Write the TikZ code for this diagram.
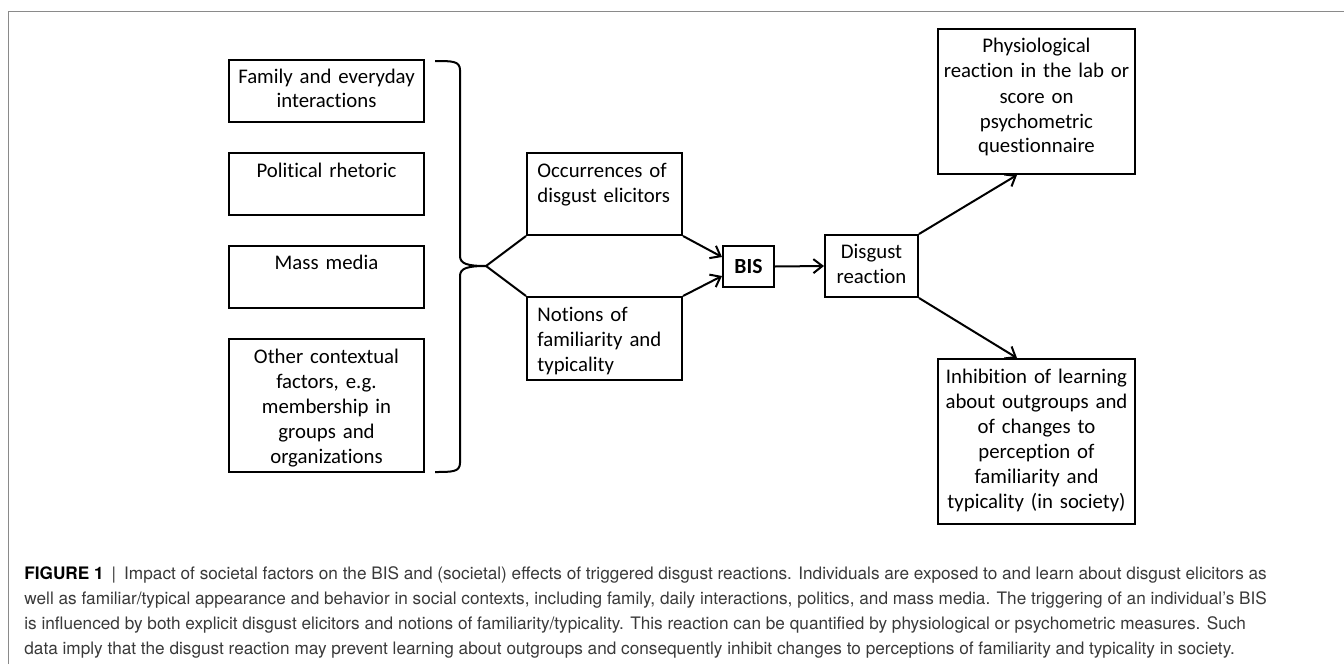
\documentclass[tikz,border=0pt]{standalone}
\usepackage{fontspec}
\setmainfont{Carlito}[RawFeature=-liga]
\newfontfamily\capfont{TeX Gyre Heros}
\usetikzlibrary{arrows.meta,calc}
\definecolor{capgray}{HTML}{3A3A3A}
\definecolor{framegray}{HTML}{8A8A8A}
\begin{document}
\begin{tikzpicture}[x=0.5pt,y=-0.5pt,
  box/.style={draw=black,line width=1pt,inner sep=0pt},
  txt/.style={font=\fontsize{10.4}{12.5}\selectfont,inner sep=0pt,anchor=base,align=center},
  ltxt/.style={font=\fontsize{10.4}{12.5}\selectfont,inner sep=0pt,anchor=base west,align=left},
  arr/.style={line width=1pt,-{Straight Barb[length=4.5pt,width=7pt]}},
  lnk/.style={line width=1pt},
  captxt/.style={font=\capfont\fontsize{8.6}{12.5}\selectfont,text=capgray,inner sep=0pt,anchor=base west}]
\useasboundingbox (0,0) rectangle (1344,664);
\fill[white] (0,0) rectangle (1344,664);
% frame
\draw[framegray,line width=0.8pt] (8.5,664) -- (8.5,11.5) -- (1344,11.5);
% left boxes
\node[box,minimum width=97.5pt,minimum height=31pt] (fam) at (326.5,91) {};
\node[box,minimum width=97.5pt,minimum height=31pt] (pol) at (326.5,184) {};
\node[box,minimum width=97.5pt,minimum height=31pt] (mas) at (326.5,277) {};
\node[box,minimum width=97.5pt,minimum height=66.5pt] (oth) at (326.5,405.5) {};
\node[txt,text width=95pt] (famt) at (326.5,83) {Family and everyday\\interactions};
\node[txt,text width=95pt] (polt) at (326.5,177) {Political rhetoric};
\node[txt,text width=95pt] (mast) at (326.5,269) {Mass media};
\node[txt,text width=95pt] (otht) at (326.5,363) {Other contextual\\factors, e.g.\\membership in\\groups and\\organizations};
% bracket
\coordinate (tip) at (486,266);
\draw[lnk] (435,61) .. controls (452,61) and (460,61) .. (460,70) -- (460,256)
  .. controls (460,264) and (468,266) .. (tip)
  .. controls (468,266) and (460,268) .. (460,276) -- (460,463)
  .. controls (460,472) and (452,472) .. (435,472);
% middle boxes
\node[box,minimum width=77.5pt,minimum height=41pt] (occ) at (604.5,194) {};
\node[box,minimum width=77.5pt,minimum height=41.5pt] (notn) at (604.5,338.5) {};
\node[ltxt,text width=75pt] (occt) at (537,177) {Occurrences of\\disgust elicitors};
\node[ltxt,text width=75pt] (notnt) at (537,321) {Notions of\\familiarity and\\typicality};
\draw[lnk] (occ.south west) -- (tip) -- (notn.north west);
% BIS and reaction
\node[box,minimum width=25.5pt,minimum height=20.5pt] (bis) at (748.5,266.5) {};
\node[txt,font=\fontsize{10.8}{12.5}\selectfont\bfseries] (bist) at (748.5,273.5) {BIS};
\node[box,minimum width=46.5pt,minimum height=31pt] (dis) at (871.5,266) {};
\node[txt,text width=45pt] (dist) at (871.5,258) {Disgust\\reaction};
% right boxes
\node[box,minimum width=98.5pt,minimum height=72.5pt] (phy) at (1036.5,101.5) {};
\node[txt,text width=96pt] (phyt) at (1036.5,53) {Physiological\\reaction in the lab or\\score on\\psychometric\\questionnaire};
\node[box,minimum width=98.5pt,minimum height=82.5pt] (inh) at (1036.5,441.5) {};
\node[txt,text width=96pt] (inht) at (1036.5,383) {Inhibition of learning\\about outgroups and\\of changes to\\perception of\\familiarity and\\typicality (in society)};
% arrows
\draw[arr] (occ.south east) -- ($(bis.west)+(0,-9.5)$);
\draw[arr] (notn.north east) -- ($(bis.west)+(0,9.5)$);
\draw[arr] (bis.east) -- (dis.west);
\draw[arr] (dis.north east) -- ($(phy.south west)+(80,0)$);
\draw[arr] (dis.south east) -- ($(inh.north west)+(80,0)$);
% caption
\node[captxt] (c1) at (24,579) {{\color{black}\bfseries FIGURE 1}\hspace{4pt}|\hspace{4pt}Impact of societal factors on the BIS and (societal) effects of triggered disgust reactions. Individuals are exposed to and learn about disgust elicitors as};
\node[captxt] (c2) at (24,604) {well as familiar/typical appearance and behavior in social contexts, including family, daily interactions, politics, and mass media. The triggering of an individual’s BIS};
\node[captxt] (c3) at (24,629) {is influenced by both explicit disgust elicitors and notions of familiarity/typicality. This reaction can be quantified by physiological or psychometric measures. Such};
\node[captxt] (c4) at (24,654) {data imply that the disgust reaction may prevent learning about outgroups and consequently inhibit changes to perceptions of familiarity and typicality in society.};
\end{tikzpicture}
\end{document}
